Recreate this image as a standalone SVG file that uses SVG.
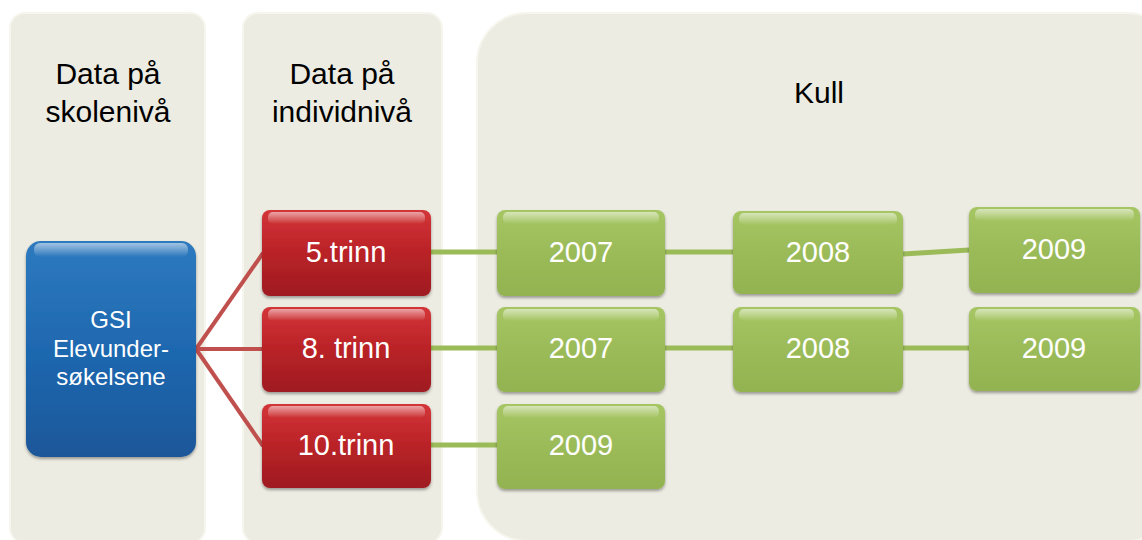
<svg xmlns="http://www.w3.org/2000/svg" width="1142" height="540" viewBox="0 0 1142 540">
<style>
.hdr{font-family:"Liberation Sans",Arial,sans-serif;font-size:30px;fill:#000;text-anchor:middle}
.lbl{font-family:"Liberation Sans",Arial,sans-serif;fill:#fff;text-anchor:middle}
.panel{fill:#ECECE2;stroke:#F6F6EE;stroke-width:2}
.red{fill:url(#gRed);filter:url(#sh)}
.green{fill:url(#gGreen);filter:url(#sh)}
.blue{fill:url(#gBlue);filter:url(#sh)}
.hl{fill:url(#gHl)}
.rc{stroke:#C0504D;stroke-width:4;fill:none}
.gc{stroke:#9BBB59;stroke-width:5;fill:none}
</style>
<defs>
<linearGradient id="gRed" x1="0" y1="0" x2="0" y2="1">
<stop offset="0" stop-color="#D33538"/>
<stop offset="0.5" stop-color="#B92227"/>
<stop offset="1" stop-color="#9E1C20"/>
</linearGradient>
<linearGradient id="gGreen" x1="0" y1="0" x2="0" y2="1">
<stop offset="0" stop-color="#A6C664"/>
<stop offset="0.5" stop-color="#9BBB59"/>
<stop offset="1" stop-color="#93B351"/>
</linearGradient>
<linearGradient id="gBlue" x1="0" y1="0" x2="0" y2="1">
<stop offset="0" stop-color="#2E7ABF"/>
<stop offset="0.5" stop-color="#1F68B0"/>
<stop offset="1" stop-color="#1B5799"/>
</linearGradient>
<linearGradient id="gHl" x1="0" y1="0" x2="0" y2="1">
<stop offset="0" stop-color="#fff" stop-opacity="0.55"/>
<stop offset="1" stop-color="#fff" stop-opacity="0"/>
</linearGradient>
<filter id="sh" x="-10%" y="-10%" width="120%" height="125%">
<feDropShadow dx="0" dy="2" stdDeviation="1.5" flood-color="#000" flood-opacity="0.35"/>
</filter>
</defs>

<g id="panel-skole">
<rect class="panel" x="10" y="13" width="195" height="530" rx="15"/>
<text class="hdr" x="108" y="84">Data på</text>
<text class="hdr" x="108" y="122">skolenivå</text>
</g>
<g id="panel-individ">
<rect class="panel" x="243" y="13" width="199" height="530" rx="15"/>
<text class="hdr" x="342" y="84">Data på</text>
<text class="hdr" x="342" y="122">individnivå</text>
</g>
<g id="panel-kull">
<rect class="panel" x="477" y="13" width="700" height="528" rx="50"/>
<text class="hdr" x="819" y="103">Kull</text>
</g>

<g id="connectors">
<line class="rc" x1="196" y1="349" x2="263" y2="253"/>
<line class="rc" x1="196" y1="349" x2="263" y2="349"/>
<line class="rc" x1="196" y1="349" x2="263" y2="446"/>
<line class="gc" x1="431" y1="252" x2="497" y2="252"/>
<line class="gc" x1="431" y1="348" x2="497" y2="348"/>
<line class="gc" x1="431" y1="445" x2="497" y2="445"/>
<line class="gc" x1="665" y1="252" x2="733" y2="252"/>
<line class="gc" x1="665" y1="348" x2="733" y2="348"/>
<line class="gc" x1="903" y1="254" x2="969" y2="250"/>
<line class="gc" x1="903" y1="348" x2="969" y2="348"/>
</g>

<g id="node-gsi">
<rect class="blue" x="26" y="241" width="170" height="216" rx="15"/>
<rect class="hl" x="34" y="243" width="154" height="14" rx="6"/>
<text class="lbl" font-size="24" x="111" y="328">GSI</text>
<text class="lbl" font-size="24" x="111" y="357">Elevunder-</text>
<text class="lbl" font-size="24" x="111" y="385">søkelsene</text>
</g>

<g id="node-5trinn">
<rect class="red" x="262" y="210" width="169" height="86" rx="8"/>
<rect class="hl" x="268" y="212" width="157" height="12" rx="5"/>
<text class="lbl" font-size="29" x="346" y="262">5.trinn</text>
</g>
<g id="node-8trinn">
<rect class="red" x="262" y="307" width="169" height="85" rx="8"/>
<rect class="hl" x="268" y="309" width="157" height="12" rx="5"/>
<text class="lbl" font-size="29" x="346" y="358">8. trinn</text>
</g>
<g id="node-10trinn">
<rect class="red" x="262" y="404" width="169" height="84" rx="8"/>
<rect class="hl" x="268" y="406" width="157" height="12" rx="5"/>
<text class="lbl" font-size="29" x="346" y="455">10.trinn</text>
</g>

<g id="node-5-2007">
<rect class="green" x="497" y="210" width="168" height="86" rx="8"/>
<rect class="hl" x="503" y="212" width="156" height="12" rx="5"/>
<text class="lbl" font-size="29" x="581" y="262">2007</text>
</g>
<g id="node-5-2008">
<rect class="green" x="733" y="211" width="170" height="83" rx="8"/>
<rect class="hl" x="739" y="213" width="158" height="12" rx="5"/>
<text class="lbl" font-size="29" x="818" y="262">2008</text>
</g>
<g id="node-5-2009">
<rect class="green" x="969" y="207" width="171" height="86" rx="8"/>
<rect class="hl" x="975" y="209" width="159" height="12" rx="5"/>
<text class="lbl" font-size="29" x="1054" y="259">2009</text>
</g>
<g id="node-8-2007">
<rect class="green" x="497" y="307" width="168" height="85" rx="8"/>
<rect class="hl" x="503" y="309" width="156" height="12" rx="5"/>
<text class="lbl" font-size="29" x="581" y="358">2007</text>
</g>
<g id="node-8-2008">
<rect class="green" x="733" y="307" width="170" height="85" rx="8"/>
<rect class="hl" x="739" y="309" width="158" height="12" rx="5"/>
<text class="lbl" font-size="29" x="818" y="358">2008</text>
</g>
<g id="node-8-2009">
<rect class="green" x="969" y="307" width="171" height="84" rx="8"/>
<rect class="hl" x="975" y="309" width="159" height="12" rx="5"/>
<text class="lbl" font-size="29" x="1054" y="358">2009</text>
</g>
<g id="node-10-2009">
<rect class="green" x="497" y="404" width="168" height="85" rx="8"/>
<rect class="hl" x="503" y="406" width="156" height="12" rx="5"/>
<text class="lbl" font-size="29" x="581" y="455">2009</text>
</g>
</svg>
